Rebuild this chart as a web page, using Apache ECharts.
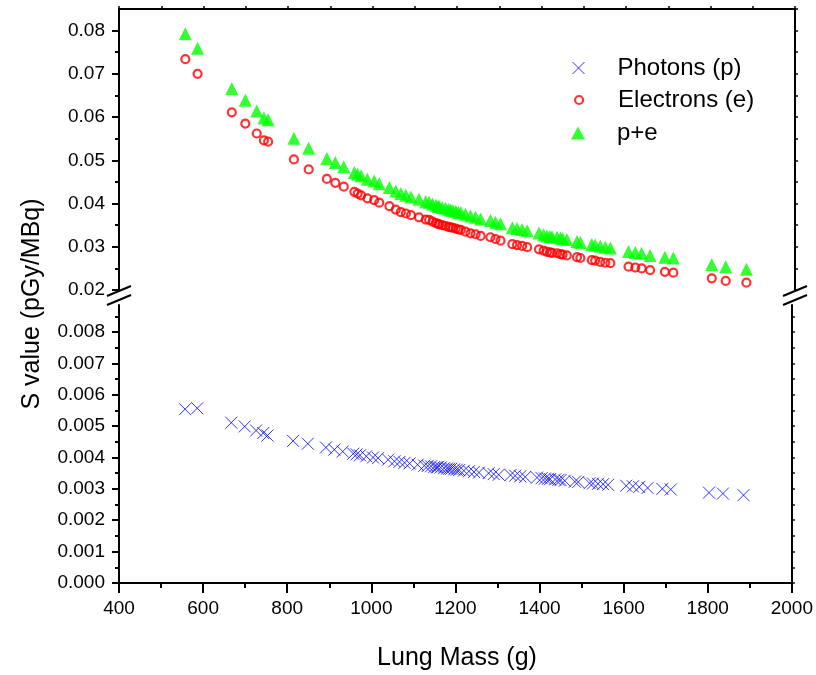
<!DOCTYPE html>
<html><head><meta charset="utf-8">
<script src="https://cdn.jsdelivr.net/npm/echarts@6/dist/echarts.min.js"></script>
<style>html,body{margin:0;padding:0;background:#fff}#c{width:816px;height:675px}</style>
</head><body><div id="c"></div>
<script>
// ---- data ----
const mass = [557,586,667,699,726,743,753,814,849,892,912,932,957,965,973,988,1004,1016,1040,1055,1067,1079,1091,1110,1126,1134,1142,1150,1155,1158,1165,1173,1180,1185,1190,1197,1203,1209,1220,1232,1244,1256,1279,1291,1303,1331,1342,1354,1366,1394,1405,1413,1420,1425,1437,1445,1450,1460,1484,1492,1519,1527,1539,1551,1563,1606,1622,1637,1657,1692,1712,1803,1836,1885];
const electrons = [0.0734,0.0700,0.0611,0.0585,0.0562,0.0546,0.0543,0.0502,0.0479,0.0457,0.0448,0.0439,0.0427,0.0423,0.0419,0.0412,0.0408,0.0402,0.0394,0.0386,0.0380,0.0377,0.0373,0.0368,0.0363,0.0362,0.0358,0.0355,0.0353,0.0352,0.0350,0.0348,0.0346,0.0345,0.0344,0.0342,0.0340,0.0339,0.0335,0.0331,0.0329,0.0325,0.0322,0.0318,0.0314,0.0306,0.0304,0.0302,0.0299,0.0294,0.0291,0.0288,0.0287,0.0286,0.0285,0.0283,0.0282,0.0280,0.0276,0.0274,0.0269,0.0268,0.0265,0.0263,0.0262,0.0254,0.0252,0.0250,0.0246,0.0242,0.0240,0.0227,0.0221,0.0217];
const photons = [0.00554,0.00557,0.00511,0.00499,0.00486,0.00478,0.00470,0.00453,0.00444,0.00432,0.00425,0.00419,0.00412,0.00410,0.00407,0.00404,0.00400,0.00398,0.00393,0.00388,0.00386,0.00383,0.00381,0.00377,0.00374,0.00373,0.00372,0.00370,0.00369,0.00369,0.00368,0.00366,0.00365,0.00364,0.00364,0.00362,0.00361,0.00360,0.00358,0.00356,0.00354,0.00352,0.00350,0.00347,0.00345,0.00344,0.00342,0.00340,0.00338,0.00336,0.00334,0.00333,0.00332,0.00331,0.00330,0.00329,0.00328,0.00326,0.00323,0.00322,0.00318,0.00317,0.00316,0.00315,0.00313,0.00310,0.00308,0.00306,0.00303,0.00300,0.00298,0.00288,0.00285,0.00280];
const pe = [0.0793,0.0759,0.0666,0.0639,0.0614,0.0598,0.0594,0.0551,0.0528,0.0504,0.0495,0.0485,0.0472,0.0468,0.0464,0.0456,0.0452,0.0446,0.0437,0.0429,0.0423,0.0419,0.0415,0.0410,0.0404,0.0403,0.0399,0.0396,0.0394,0.0393,0.0391,0.0389,0.0387,0.0385,0.0384,0.0382,0.0380,0.0379,0.0375,0.0371,0.0368,0.0364,0.0361,0.0357,0.0353,0.0344,0.0342,0.0340,0.0337,0.0332,0.0328,0.0325,0.0324,0.0323,0.0322,0.0320,0.0319,0.0317,0.0312,0.0310,0.0305,0.0304,0.0301,0.0299,0.0297,0.0289,0.0287,0.0285,0.0280,0.0276,0.0274,0.0259,0.0254,0.0248];

const seriesNames = ['Photons (p)', 'Electrons (e)', 'p+e'];
const upperTicks = [0.02,0.03,0.04,0.05,0.06,0.07,0.08];
const upperMinor = [0.025,0.035,0.045,0.055,0.065,0.075];
const upperRight = [0.02,0.025,0.03,0.035,0.04,0.045,0.05,0.055,0.06,0.065,0.07,0.075,0.08,0.085];
const lowerTicks = [0,0.001,0.002,0.003,0.004,0.005,0.006,0.007,0.008];
const lowerMinor = [0.0005,0.0015,0.0025,0.0035,0.0045,0.0055,0.0065,0.0075,0.0085];
const lowerRight = [0,0.0005,0.001,0.0015,0.002,0.0025,0.003,0.0035,0.004,0.0045,0.005,0.0055,0.006,0.0065,0.007,0.0075,0.008,0.0085];
const xTitle = 'Lung Mass (g)';
const yTitle = 'S value (pGy/MBq)';

const FONT = '"Liberation Sans", Arial, sans-serif';
const BLK = '#000';
const upMin = 0.02, upMax = 0.085, loMin = 0, loMax = 0.00886;

const chart = echarts.init(document.getElementById('c'), null, {renderer: 'canvas'});
const hiddenX = g => ({gridIndex: g, type: 'value', min: 400, max: 2000, show: false});
const legendText = pad => ({fontSize: 24, lineHeight: 24, color: BLK, fontFamily: FONT, padding: [0, 0, 0, pad]});
const option = {
  animation: false,
  backgroundColor: '#fff',
  grid: [
    {left: 119, right: 21, top: 9, height: 281},
    {left: 119, right: 21, top: 305, height: 278},
    {left: 119, right: 21, top: 9, height: 281},
    {left: 119, right: 21, top: 305, height: 278}
  ],
  xAxis: [
    {gridIndex: 0, type: 'value', position: 'top', min: 400, max: 2000, interval: 100,
     axisLine: {show: true, onZero: false, lineStyle: {color: BLK, width: 2}},
     axisTick: {show: true, inside: false, length: 3, lineStyle: {color: BLK, width: 1.5}},
     axisLabel: {show: false}, splitLine: {show: false}},
    {gridIndex: 1, type: 'value', position: 'bottom', min: 400, max: 2000, interval: 200,
     axisLine: {show: true, onZero: false, lineStyle: {color: BLK, width: 2}},
     axisTick: {show: true, inside: false, length: 10, lineStyle: {color: BLK, width: 2}},
     minorTick: {show: true, splitNumber: 2, length: 5, lineStyle: {color: BLK, width: 2}},
     axisLabel: {show: true, formatter: v => String(v), fontSize: 19, color: BLK, fontFamily: FONT, margin: 16},
     splitLine: {show: false}, minorSplitLine: {show: false}},
    hiddenX(2), hiddenX(3)
  ],
  yAxis: [
    {gridIndex: 0, type: 'value', position: 'left', min: upMin, max: upMax,
     axisLine: {show: true, onZero: false, lineStyle: {color: BLK, width: 2}},
     axisTick: {show: true, inside: false, length: 7, customValues: upperTicks, lineStyle: {color: BLK, width: 2}},
     axisLabel: {show: true, customValues: upperTicks, formatter: v => v.toFixed(2), fontSize: 19, color: BLK, fontFamily: FONT, margin: 14},
     splitLine: {show: false}},
    {gridIndex: 0, type: 'value', position: 'right', min: upMin, max: upMax,
     axisLine: {show: true, onZero: false, lineStyle: {color: BLK, width: 2}},
     axisTick: {show: true, inside: false, length: 3, customValues: upperRight, lineStyle: {color: BLK, width: 1.5}},
     axisLabel: {show: false}, splitLine: {show: false}},
    {gridIndex: 1, type: 'value', position: 'left', min: loMin, max: loMax,
     axisLine: {show: true, onZero: false, lineStyle: {color: BLK, width: 2}},
     axisTick: {show: true, inside: false, length: 7, customValues: lowerTicks, lineStyle: {color: BLK, width: 2}},
     axisLabel: {show: true, customValues: lowerTicks, formatter: v => v.toFixed(3), fontSize: 19, color: BLK, fontFamily: FONT, margin: 14},
     splitLine: {show: false}},
    {gridIndex: 1, type: 'value', position: 'right', min: loMin, max: loMax,
     axisLine: {show: true, onZero: false, lineStyle: {color: BLK, width: 2}},
     axisTick: {show: true, inside: false, length: 3, customValues: lowerRight, lineStyle: {color: BLK, width: 1.5}},
     axisLabel: {show: false}, splitLine: {show: false}},
    {gridIndex: 2, type: 'value', position: 'left', min: upMin, max: upMax,
     axisLine: {show: false},
     axisTick: {show: true, inside: false, length: 4, customValues: upperMinor, lineStyle: {color: BLK, width: 2}},
     axisLabel: {show: false}, splitLine: {show: false}},
    {gridIndex: 3, type: 'value', position: 'left', min: loMin, max: loMax,
     axisLine: {show: false},
     axisTick: {show: true, inside: false, length: 4, customValues: lowerMinor, lineStyle: {color: BLK, width: 2}},
     axisLabel: {show: false}, splitLine: {show: false}}
  ],
  legend: [
    {data: [{name: seriesNames[0], icon: 'path://M0,0L12,12M12,0L0,12'}], orient: 'vertical', left: 572, top: 56, padding: 0, itemWidth: 12, itemHeight: 12,
     itemStyle: {color: 'rgba(0,0,0,0)', borderColor: '#0000ff', borderWidth: 1},
     textStyle: legendText(28)},
    {data: [{name: seriesNames[1], icon: 'circle'}], orient: 'vertical', left: 574, top: 88, padding: 0, itemWidth: 8, itemHeight: 8,
     itemStyle: {color: 'rgba(0,0,0,0)', borderColor: '#ff0000', borderWidth: 2.2},
     textStyle: legendText(30)},
    {data: [{name: seriesNames[2], icon: 'triangle'}], orient: 'vertical', left: 571, top: 121, padding: 0, itemWidth: 14, itemHeight: 13,
     itemStyle: {color: '#00ff00', borderWidth: 0},
     textStyle: legendText(27)}
  ],
  series: [
    {name: seriesNames[0], type: 'scatter', xAxisIndex: 1, yAxisIndex: 2,
     symbol: 'path://M0,0L12,12M12,0L0,12', symbolSize: 12,
     itemStyle: {color: 'rgba(0,0,0,0)', borderColor: '#0000ff', borderWidth: 1},
     data: mass.map((m, i) => [m, photons[i]])},
    {name: seriesNames[1], type: 'scatter', xAxisIndex: 0, yAxisIndex: 0,
     symbol: 'circle', symbolSize: 8,
     itemStyle: {color: 'rgba(0,0,0,0)', borderColor: '#ff0000', borderWidth: 2.2},
     data: mass.map((m, i) => [m, electrons[i]])},
    {name: seriesNames[2], type: 'scatter', xAxisIndex: 0, yAxisIndex: 0,
     symbol: 'triangle', symbolSize: 13,
     itemStyle: {color: '#00ff00', borderWidth: 0},
     data: mass.map((m, i) => [m, pe[i]])}
  ],
  graphic: [
    {type: 'text', style: {text: xTitle, x: 457, y: 658, align: 'center', verticalAlign: 'middle', font: '25px ' + FONT, fill: BLK}, silent: true},
    {type: 'text', rotation: Math.PI / 2, x: 32, y: 304, style: {text: yTitle, x: 0, y: 0, align: 'center', verticalAlign: 'middle', font: '25px ' + FONT, fill: BLK}, silent: true},
    {type: 'line', shape: {x1: 107, y1: 296, x2: 131, y2: 286}, style: {stroke: BLK, lineWidth: 2}, silent: true},
    {type: 'line', shape: {x1: 107, y1: 305, x2: 131, y2: 295}, style: {stroke: BLK, lineWidth: 2}, silent: true},
    {type: 'line', shape: {x1: 783, y1: 296, x2: 807, y2: 286}, style: {stroke: BLK, lineWidth: 2}, silent: true},
    {type: 'line', shape: {x1: 783, y1: 305, x2: 807, y2: 295}, style: {stroke: BLK, lineWidth: 2}, silent: true}
  ]
};
chart.setOption(option);
</script></body></html>
